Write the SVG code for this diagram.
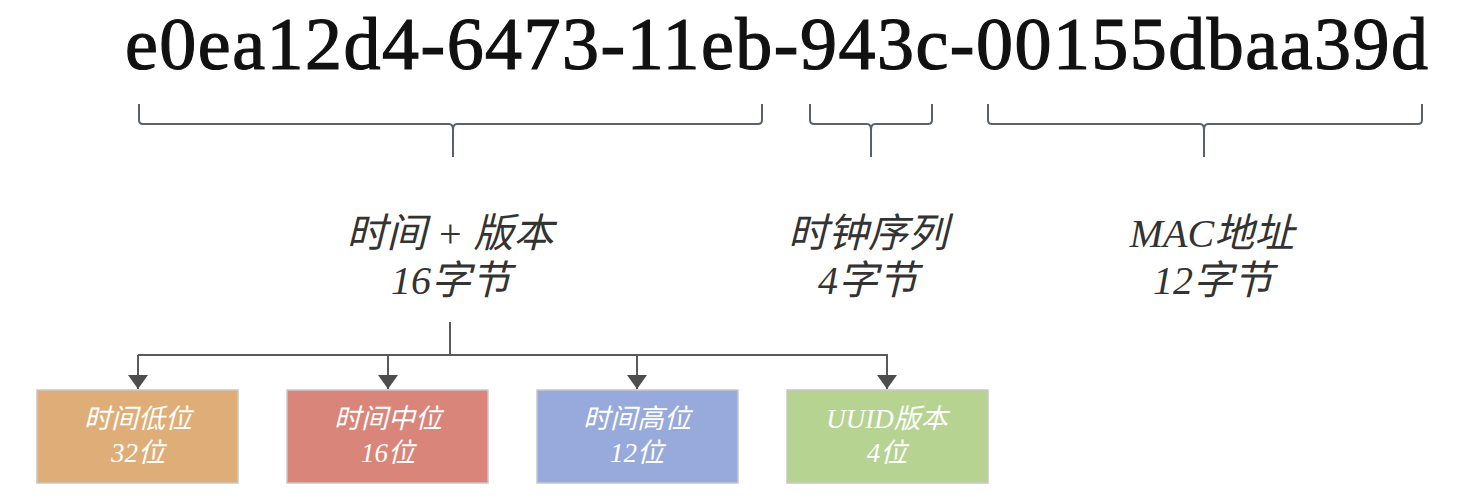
<svg xmlns="http://www.w3.org/2000/svg" width="1469" height="504" viewBox="0 0 1469 504">
<style>
.title{font-family:"Liberation Serif","Noto Serif",serif;font-size:74px;fill:#111;stroke:#111;stroke-width:1.2;}
.lbl{font-family:"Liberation Serif","Noto Sans CJK SC",serif;font-style:italic;font-size:40px;fill:#333;text-anchor:middle;}
.brace{fill:none;stroke:#5a6070;stroke-width:2;stroke-linejoin:round;}
.conn{fill:none;stroke:#595959;stroke-width:2;}
.box{stroke:#c8c8c8;stroke-width:1.5;}
.bt{font-family:"Liberation Serif","Noto Sans CJK SC",serif;font-style:italic;font-size:27px;fill:#ffffff;text-anchor:middle;}
</style>
<defs>
<marker id="arrow" viewBox="0 0 14 20" refX="14" refY="10" markerWidth="14" markerHeight="20" orient="auto" markerUnits="userSpaceOnUse">
<path d="M0,0 L14,10 L0,20 Z" fill="#4d4d4d"/>
</marker>
</defs>
<rect width="1469" height="504" fill="#ffffff"/>
<g id="uuid">
<text class="title" x="125" y="69" textLength="1303">e0ea12d4-6473-11eb-943c-00155dbaa39d</text>
</g>
<g id="braces">
<path class="brace" d="M139,104 V120 Q139,124 143,124 H449 Q453,124 453,130 V157 M453,130 Q453,124 457,124 H758 Q762,124 762,120 V104"/>
<path class="brace" d="M810,104 V120 Q810,124 814,124 H867 Q871,124 871,130 V157 M871,130 Q871,124 875,124 H928 Q932,124 932,120 V104"/>
<path class="brace" d="M988,104 V120 Q988,124 992,124 H1200 Q1204,124 1204,130 V157 M1204,130 Q1204,124 1208,124 H1418 Q1422,124 1422,120 V104"/>
</g>
<g id="label-time">
<text class="lbl" x="450" y="247">时间 + 版本</text>
<text class="lbl" x="451" y="294">16字节</text>
</g>
<g id="label-clock">
<text class="lbl" x="868" y="247">时钟序列</text>
<text class="lbl" x="868" y="294">4字节</text>
</g>
<g id="label-mac">
<text class="lbl" x="1212" y="247">MAC地址</text>
<text class="lbl" x="1213" y="294">12字节</text>
</g>
<g id="connectors">
<path class="conn" d="M450,322 V355"/>
<path class="conn" d="M138,355 H888"/>
<path class="conn" d="M138,355 V389" marker-end="url(#arrow)"/>
<path class="conn" d="M388,355 V389" marker-end="url(#arrow)"/>
<path class="conn" d="M637,355 V389" marker-end="url(#arrow)"/>
<path class="conn" d="M887,355 V389" marker-end="url(#arrow)"/>
</g>
<g id="box-low">
<rect class="box" x="37" y="390" width="201" height="93" fill="#DFAE78"/>
<text class="bt" x="138" y="428">时间低位</text>
<text class="bt" x="138" y="462">32位</text>
</g>
<g id="box-mid">
<rect class="box" x="287" y="390" width="201" height="93" fill="#D9857A"/>
<text class="bt" x="388" y="428">时间中位</text>
<text class="bt" x="388" y="462">16位</text>
</g>
<g id="box-high">
<rect class="box" x="537" y="390" width="201" height="93" fill="#97AADB"/>
<text class="bt" x="637" y="428">时间高位</text>
<text class="bt" x="637" y="462">12位</text>
</g>
<g id="box-ver">
<rect class="box" x="787" y="390" width="201" height="93" fill="#B7D391"/>
<text class="bt" x="887" y="428">UUID版本</text>
<text class="bt" x="887" y="462">4位</text>
</g>
</svg>
